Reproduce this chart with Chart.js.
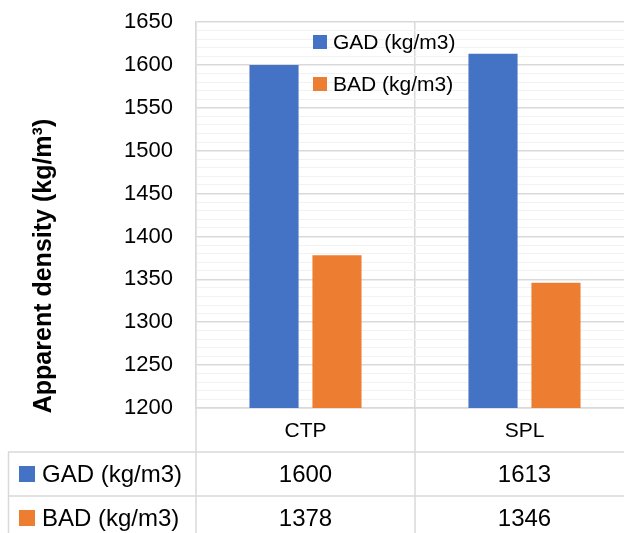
<!DOCTYPE html>
<html>
<head>
<meta charset="utf-8">
<script src="https://cdn.jsdelivr.net/npm/chart.js@4/dist/chart.umd.min.js"></script>
<style>
html,body{margin:0;padding:0;background:#fff}
#wrap{width:624px;height:533px;overflow:hidden;position:relative}
#chartHTML{display:block}
</style>
</head>
<body>
<div id="wrap"><canvas id="chartHTML" width="650" height="533"></canvas></div>
<script>
const categories=['CTP','SPL']
const seriesLabels=['GAD (kg/m3)','BAD (kg/m3)']
const gadValues=[1600,1613]
const badValues=[1378,1346]
const yMin=1200, yMax=1650, yMajorStep=50, yMinorStep=10
const axisTitle='Apparent density (kg/m\u00B3)'
const colours=['#4472C4','#ED7D31']

const FONT='"Liberation Sans", Arial, sans-serif'
const gridMajor='#d9d9d9', gridMinor='#f2f2f2'

// legend, y title and the data table underneath
const extrasPlugin={
id:'extras',
afterDraw(chart){
const ctx=chart.ctx
const area=chart.chartArea
const xs=chart.scales.x
const H=chart.height
ctx.save()

// y axis title
ctx.translate(44,266)
ctx.rotate(-Math.PI/2)
ctx.font='bold 25px '+FONT
ctx.fillStyle='#000'
ctx.textAlign='center'
ctx.textBaseline='middle'
ctx.fillText(axisTitle,0,0)
ctx.setTransform(1,0,0,1,0,0)

// legend inside plot
ctx.font='21px '+FONT
ctx.textAlign='left'
chart.data.datasets.forEach((ds,i)=>{
const y=42+i*42
ctx.fillStyle=ds.backgroundColor
ctx.fillRect(313,y-7,14,14)
ctx.fillStyle='#000'
ctx.fillText(ds.label,333,y+1)
})

// table lines
const half=(xs.getPixelForValue(1)-xs.getPixelForValue(0))/2
const bounds=[area.left]
categories.forEach((c,i)=>bounds.push(xs.getPixelForValue(i)+half))
const rowTop=452, rowH=44
ctx.strokeStyle=gridMajor
ctx.lineWidth=1.5
ctx.beginPath()
for(let r=0;r<2;r++){
ctx.moveTo(8,rowTop+r*rowH)
ctx.lineTo(chart.width,rowTop+r*rowH)
}
ctx.moveTo(8.5,rowTop);ctx.lineTo(8.5,H)
bounds.forEach(b=>{ctx.moveTo(b,area.bottom);ctx.lineTo(b,H)})
ctx.stroke()

// table contents
chart.data.datasets.forEach((ds,r)=>{
const yc=rowTop+r*rowH+22
ctx.fillStyle=ds.backgroundColor
ctx.fillRect(19,yc-8,16,16)
ctx.fillStyle='#000'
ctx.font='24px '+FONT
ctx.textAlign='left'
ctx.fillText(ds.label,42,yc+1)
ctx.font='24px '+FONT
ctx.textAlign='center'
ds.data.forEach((v,i)=>ctx.fillText(String(v),xs.getPixelForValue(i),yc+1))
})
ctx.restore()
}
}

let chartDensity=new Chart(
document.getElementById('chartHTML'),
{
type:'bar',
data:{
labels:categories,
datasets:[
{label:seriesLabels[0],data:gadValues,backgroundColor:colours[0],categoryPercentage:0.575,barPercentage:0.78},
{label:seriesLabels[1],data:badValues,backgroundColor:colours[1],categoryPercentage:0.575,barPercentage:0.78}
]
},
options:{
responsive:false,
animation:false,
layout:{padding:{top:22,right:16,bottom:0,left:0}},
plugins:{legend:{display:false},tooltip:{enabled:false},title:{display:false}},
scales:{
x:{
grid:{offset:true,color:gridMajor,lineWidth:1.5,drawTicks:false},
border:{color:gridMajor,width:1.5},
ticks:{color:'#000',font:{family:FONT,size:21},padding:11},
afterFit:s=>{s.height=125}
},
y:{
min:yMin,max:yMax,
grid:{drawTicks:false,color:c=>c.tick.value%yMajorStep===0?gridMajor:gridMinor,lineWidth:c=>c.tick.value%yMajorStep===0?1.5:1},
border:{color:gridMajor,width:1.5},
ticks:{stepSize:yMinorStep,autoSkip:false,color:'#000',font:{family:FONT,size:22},padding:23,
callback:v=>v%yMajorStep===0?String(v):''},
afterFit:s=>{s.width=196;s.paddingTop=0;s.paddingBottom=0}
}
}
},
plugins:[extrasPlugin]
}
)
</script>
</body>
</html>
